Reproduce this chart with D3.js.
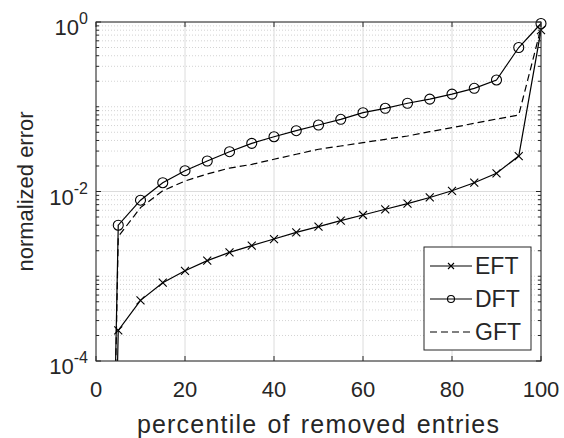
<!DOCTYPE html>
<html>
<head>
<meta charset="utf-8">
<script src="https://cdn.jsdelivr.net/npm/d3@7"></script>
<style>
  html, body { margin: 0; padding: 0; background: #ffffff; }
  svg { display: block; font-family: "Liberation Sans", Arial, Helvetica, sans-serif; }
</style>
</head>
<body>
<svg id="chart" width="564" height="438"></svg>
<script>
// ---- data ----
const percentiles = [0, 5, 10, 15, 20, 25, 30, 35, 40, 45, 50, 55, 60, 65, 70, 75, 80, 85, 90, 95, 100];
const eftValues = [1e-16, 2.3e-4, 5.2e-4, 8.4e-4, 1.16e-3, 1.53e-3, 1.91e-3, 2.3e-3, 2.75e-3, 3.29e-3, 3.85e-3, 4.53e-3, 5.28e-3, 6.17e-3, 7.2e-3, 8.5e-3, 1.02e-2, 1.27e-2, 1.64e-2, 2.62e-2, 0.8];
const dftValues = [1e-16, 4.0e-3, 7.9e-3, 1.27e-2, 1.76e-2, 2.29e-2, 2.95e-2, 3.7e-2, 4.43e-2, 5.22e-2, 6.09e-2, 7.11e-2, 8.51e-2, 9.59e-2, 0.110, 0.123, 0.141, 0.165, 0.207, 0.50, 0.96];
const gftValues = [1e-16, 2.93e-3, 6.45e-3, 1.02e-2, 1.33e-2, 1.61e-2, 1.89e-2, 2.09e-2, 2.40e-2, 2.75e-2, 3.15e-2, 3.44e-2, 3.77e-2, 4.13e-2, 4.52e-2, 5.08e-2, 5.66e-2, 6.38e-2, 7.16e-2, 8.0e-2, 0.85];
const seriesNames = ["EFT", "DFT", "GFT"];
const xTickValues = [0, 20, 40, 60, 80, 100];
const yTickExponents = [0, -2, -4];
const xLabel = "percentile of removed entries";
const yLabel = "normalized error";

// ---- layout ----
const W = 564, H = 438;
const plot = { left: 96, right: 541, top: 22, bottom: 361 };
const ink = "#262626";

const svg = d3.select("#chart");
const x = d3.scaleLinear().domain([0, 100]).range([plot.left, plot.right]);
const y = d3.scaleLog().domain([1e-4, 1]).range([plot.bottom, plot.top]);

svg.append("rect").attr("x", plot.left).attr("y", plot.top)
  .attr("width", plot.right - plot.left).attr("height", plot.bottom - plot.top)
  .attr("fill", "#ffffff");

// minor y grid (dotted)
const minorY = [];
for (let e = -4; e < 0; e++) {
  for (let m = 1; m <= 9; m++) {
    const v = m * Math.pow(10, e);
    if (m === 1 && yTickExponents.includes(e)) continue;
    minorY.push(v);
  }
}
const grid = svg.append("g");
grid.selectAll("line.minor").data(minorY).join("line")
  .attr("x1", plot.left).attr("x2", plot.right)
  .attr("y1", d => y(d)).attr("y2", d => y(d))
  .attr("stroke", "#c8c8c8").attr("stroke-width", 0.8).attr("stroke-dasharray", "1,2");
// major grids
grid.selectAll("line.mx").data(xTickValues).join("line")
  .attr("x1", d => x(d)).attr("x2", d => x(d))
  .attr("y1", plot.top).attr("y2", plot.bottom)
  .attr("stroke", "#dcdcdc").attr("stroke-width", 1);
grid.selectAll("line.my").data(yTickExponents.map(e => Math.pow(10, e))).join("line")
  .attr("x1", plot.left).attr("x2", plot.right)
  .attr("y1", d => y(d)).attr("y2", d => y(d))
  .attr("stroke", "#dcdcdc").attr("stroke-width", 1);

// clip
svg.append("clipPath").attr("id", "clip").append("rect")
  .attr("x", plot.left).attr("y", plot.top)
  .attr("width", plot.right - plot.left).attr("height", plot.bottom - plot.top);

const seriesData = [eftValues, dftValues, gftValues].map((vals, i) =>
  ({ name: seriesNames[i], pts: percentiles.map((p, j) => ({ x: p, y: vals[j] })) }));

const line = d3.line().x(d => x(d.x)).y(d => y(d.y));
const lines = svg.append("g").attr("clip-path", "url(#clip)");

lines.selectAll("path").data(seriesData).join("path")
  .attr("d", d => line(d.pts))
  .attr("fill", "none").attr("stroke", "#000")
  .attr("stroke-width", 1.2)
  .attr("stroke-dasharray", d => d.name === "GFT" ? "7,4" : null);

// markers
const crossSize = 4;
function drawCross(g, cx, cy, s) {
  g.append("path").attr("d", `M${cx - s},${cy - s}L${cx + s},${cy + s}M${cx - s},${cy + s}L${cx + s},${cy - s}`)
    .attr("stroke", "#000").attr("stroke-width", 1.1).attr("fill", "none");
}
const mk = svg.append("g");
seriesData[0].pts.filter(d => d.x > 0).forEach(d => drawCross(mk, x(d.x), y(d.y), crossSize));
mk.selectAll("circle").data(seriesData[1].pts.filter(d => d.x > 0)).join("circle")
  .attr("cx", d => x(d.x)).attr("cy", d => y(d.y)).attr("r", 5)
  .attr("fill", "none").attr("stroke", "#000").attr("stroke-width", 1.1);

// axes box
svg.append("rect").attr("x", plot.left).attr("y", plot.top)
  .attr("width", plot.right - plot.left).attr("height", plot.bottom - plot.top)
  .attr("fill", "none").attr("stroke", ink).attr("stroke-width", 1);

// ticks (inside)
const tk = svg.append("g").attr("stroke", ink).attr("stroke-width", 1);
xTickValues.forEach(v => {
  tk.append("line").attr("x1", x(v)).attr("x2", x(v)).attr("y1", plot.bottom).attr("y2", plot.bottom - 5);
  tk.append("line").attr("x1", x(v)).attr("x2", x(v)).attr("y1", plot.top).attr("y2", plot.top + 5);
});
yTickExponents.forEach(e => {
  const yy = y(Math.pow(10, e));
  tk.append("line").attr("x1", plot.left).attr("x2", plot.left + 5).attr("y1", yy).attr("y2", yy);
  tk.append("line").attr("x1", plot.right).attr("x2", plot.right - 5).attr("y1", yy).attr("y2", yy);
});
minorY.forEach(v => {
  const yy = y(v);
  tk.append("line").attr("x1", plot.left).attr("x2", plot.left + 3).attr("y1", yy).attr("y2", yy);
  tk.append("line").attr("x1", plot.right).attr("x2", plot.right - 3).attr("y1", yy).attr("y2", yy);
});

// tick labels
svg.append("g").selectAll("text").data(xTickValues).join("text")
  .attr("x", d => x(d)).attr("y", plot.bottom + 36)
  .attr("text-anchor", "middle").attr("font-size", 22).attr("fill", ink)
  .text(d => d);

const yl = svg.append("g");
yTickExponents.forEach(e => {
  const yy = y(Math.pow(10, e));
  const t = yl.append("text").attr("x", 88).attr("y", yy + 13)
    .attr("text-anchor", "end").attr("font-size", 22).attr("fill", ink);
  t.append("tspan").text("10");
  t.append("tspan").attr("dy", -11).attr("font-size", 16).text(String(e));
});

// axis labels
svg.append("text").attr("x", (plot.left + plot.right) / 2).attr("y", 433)
  .attr("text-anchor", "middle").attr("font-size", 25).attr("fill", ink)
  .attr("letter-spacing", 1.2).attr("word-spacing", 2).text(xLabel);
svg.append("text").attr("transform", `translate(33,${(plot.top + plot.bottom) / 2}) rotate(-90)`)
  .attr("text-anchor", "middle").attr("font-size", 22).attr("fill", ink).text(yLabel);

// legend
const lg = svg.append("g");
lg.append("rect").attr("x", 424).attr("y", 247).attr("width", 107).attr("height", 103)
  .attr("fill", "#ffffff").attr("stroke", ink).attr("stroke-width", 1);
const rows = [266, 299, 332];
seriesNames.forEach((name, i) => {
  const ry = rows[i];
  lg.append("line").attr("x1", 430).attr("x2", 472).attr("y1", ry).attr("y2", ry)
    .attr("stroke", "#000").attr("stroke-width", 1.2)
    .attr("stroke-dasharray", name === "GFT" ? "7,4" : null);
  if (name === "EFT") drawCross(lg, 451, ry, 3);
  if (name === "DFT") lg.append("circle").attr("cx", 451).attr("cy", ry).attr("r", 3.5)
    .attr("fill", "none").attr("stroke", "#000").attr("stroke-width", 1.1);
  lg.append("text").attr("x", 475).attr("y", ry + 8).attr("font-size", 23).attr("fill", ink).text(name);
});
</script>
</body>
</html>
